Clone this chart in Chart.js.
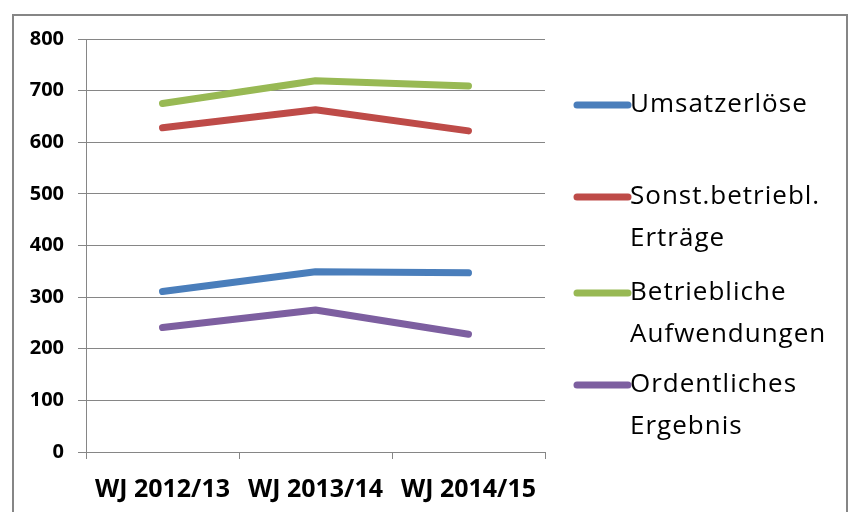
<!DOCTYPE html>
<html>
<head>
<meta charset="utf-8">
<script src="https://cdn.jsdelivr.net/npm/chart.js@4"></script>
<style>
  html, body { margin: 0; padding: 0; background: #fff; }
  #wrap { position: relative; width: 850px; height: 512px; }
</style>
</head>
<body>
<div id="wrap"><canvas id="chart" width="850" height="512"></canvas></div>
<script>
const categories = ['WJ 2012/13', 'WJ 2013/14', 'WJ 2014/15'];
const seriesNames = ['Umsatzerlöse', 'Sonst.betriebl. Erträge', 'Betriebliche Aufwendungen', 'Ordentliches Ergebnis'];
const umsatz = [311, 349, 347];
const sonstErtraege = [628, 663, 622];
const aufwendungen = [675, 719, 709];
const ergebnis = [241, 275, 228];
const yTicks = [0, 100, 200, 300, 400, 500, 600, 700, 800];

const colors = ['#4a7ebb', '#be4b48', '#98b954', '#7d5fa0'];
const values = [umsatz, sonstErtraege, aufwendungen, ergebnis];

// frame around the whole chart, like the office export
const framePlugin = {
  id: 'frame',
  beforeDraw(chart) {
    const ctx = chart.ctx;
    ctx.save();
    ctx.fillStyle = '#fff';
    ctx.fillRect(0, 0, chart.width, chart.height);
    ctx.strokeStyle = '#868686';
    ctx.lineWidth = 2;
    ctx.strokeRect(13, 15, 834, 520);
    ctx.restore();
  }
};

// legend on the right with wrapped names
const sideLegend = {
  id: 'sideLegend',
  afterDraw(chart) {
    const ctx = chart.ctx;
    const lineH = 42;
    const entryY = [105, 197, 293, 385];
    const x0 = 577, x1 = 628, tx = 630;
    ctx.save();
    ctx.font = '26px "Open Sans"';
    ctx.letterSpacing = '1px';
    ctx.textBaseline = 'middle';
    chart.data.datasets.forEach((ds, i) => {
      const y = entryY[i];
      ctx.strokeStyle = ds.borderColor;
      ctx.lineWidth = 7;
      ctx.lineCap = 'round';
      ctx.beginPath();
      ctx.moveTo(x0, y);
      ctx.lineTo(x1, y);
      ctx.stroke();
      // simple word wrap
      const words = ds.label.split(' ');
      let lines = [], cur = '';
      words.forEach(w => {
        const t = cur ? cur + ' ' + w : w;
        if (ctx.measureText(t).width > 210 && cur) { lines.push(cur); cur = w; }
        else cur = t;
      });
      lines.push(cur);
      ctx.fillStyle = '#000';
      lines.forEach((ln, k) => ctx.fillText(ln, tx, y + k * lineH));
    });
    ctx.restore();
  }
};

new Chart(document.getElementById('chart'), {
  type: 'line',
  data: {
    labels: categories,
    datasets: seriesNames.map((name, i) => ({
      label: name,
      data: values[i],
      borderColor: colors[i],
      backgroundColor: colors[i],
      borderWidth: 7,
      borderCapStyle: 'round',
      borderJoinStyle: 'round',
      pointRadius: 0,
      tension: 0
    }))
  },
  options: {
    responsive: false,
    animation: false,
    layout: { padding: { left: 0, right: 305, top: 39, bottom: 0 } },
    plugins: { legend: { display: false }, tooltip: { enabled: false } },
    scales: {
      x: {
        offset: true,
        grid: { offset: true, drawOnChartArea: false, drawTicks: true, tickLength: 7, color: '#868686' },
        border: { color: '#868686' },
        ticks: { color: '#000', font: { family: '"Open Sans"', size: 25, weight: 'bold' }, padding: 16, maxRotation: 0 },
        afterFit(scale) { scale.height = 60; }
      },
      y: {
        min: 0,
        max: 800,
        afterBuildTicks(scale) { scale.ticks = yTicks.map(v => ({ value: v })); },
        grid: { color: '#868686', tickLength: 8 },
        border: { color: '#868686' },
        ticks: { color: '#000', font: { family: '"Open Sans"', size: 20, weight: 'bold' }, padding: 14 },
        afterFit(scale) { scale.width = 86; }
      }
    }
  },
  plugins: [framePlugin, sideLegend]
});
</script>
</body>
</html>
